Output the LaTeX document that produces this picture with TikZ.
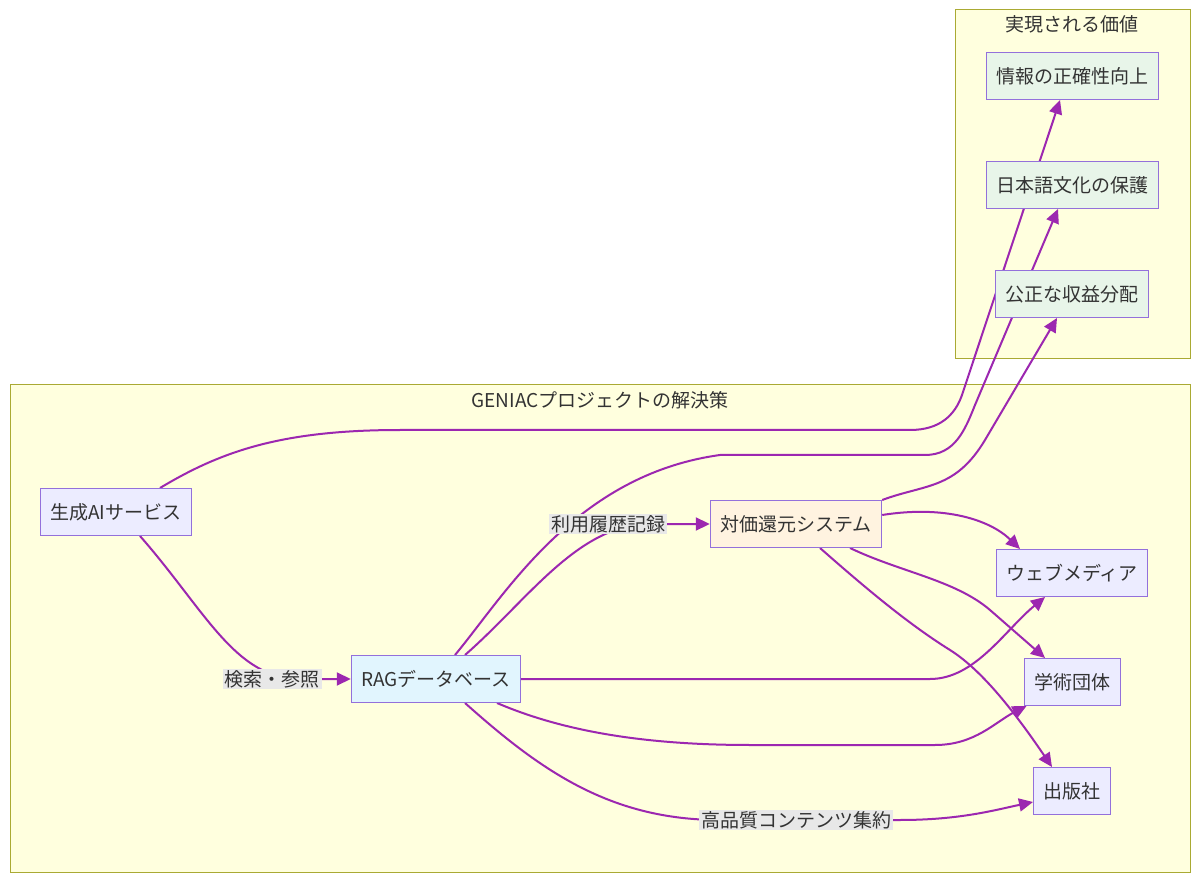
\documentclass[tikz,border=0pt]{standalone}
\usepackage{fontspec}
\setmainfont{Noto Sans CJK JP}
\usepackage{xcolor}
\usepackage{tikz}
\usetikzlibrary{arrows.meta,positioning,calc}
\definecolor{clfill}{HTML}{FFFFDE}
\definecolor{cldraw}{HTML}{AAAA33}
\definecolor{ndfill}{HTML}{ECECFF}
\definecolor{nddraw}{HTML}{9370DB}
\definecolor{ragfill}{HTML}{E1F5FE}
\definecolor{sysfill}{HTML}{FFF3E0}
\definecolor{valfill}{HTML}{E8F5E9}
\definecolor{edgecol}{HTML}{9C27B0}
\definecolor{lblfill}{HTML}{E8E8E8}
\definecolor{txt}{HTML}{333333}
\pgfdeclarelayer{cluster}
\pgfdeclarelayer{edges}
\pgfsetlayers{cluster,edges,main}

\begin{document}
\begin{tikzpicture}[x=1pt,y=-1pt,
  box/.style={draw=nddraw, fill=ndfill, line width=1pt, minimum height=47pt,
    inner xsep=10pt, text=txt, font=\fontsize{19}{19}\selectfont},
  flow/.style={draw=edgecol, line width=2pt, -{Triangle[length=14pt,width=13pt]}},
  elabel/.style={fill=lblfill, inner xsep=2pt, inner ysep=1.5pt, text=txt,
    font=\fontsize{19}{19}\selectfont},
  ctitle/.style={text=txt, font=\fontsize{19}{19}\selectfont},
  cluster/.style={draw=cldraw, fill=clfill, line width=1pt}]
  \useasboundingbox (0,0) rectangle (1200,882);

  % subgraphs
  \begin{pgfonlayer}{cluster}
    \fill[white] (0,0) rectangle (1200,882);
    \draw[cluster] (955,10) rectangle (1190,359);
    \draw[cluster] (10,385) rectangle (1190,872);
  \end{pgfonlayer}
  \node[ctitle] (valtitle) at (1072,24) {実現される価値};
  \node[ctitle] (soltitle) at (600,400) {GENIACプロジェクトの解決策};

  % values
  \node[box, fill=valfill] (acc) at (1072,76) {情報の正確性向上};
  \node[box, fill=valfill] (cul) at (1072,185) {日本語文化の保護};
  \node[box, fill=valfill] (fair) at (1072,294) {公正な収益分配};

  % solution
  \node[box] (gen) at (116,512) {生成AIサービス};
  \node[box, fill=ragfill] (rag) at (436,679) {RAGデータベース};
  \node[box, fill=sysfill] (sys) at (796,524) {対価還元システム};
  \node[box] (web) at (1072,573) {ウェブメディア};
  \node[box] (aca) at (1072,682) {学術団体};
  \node[box] (pub) at (1072,791) {出版社};

  % edge labels
  \node[elabel] (lsearch) at (272,679) {検索・参照};
  \node[elabel] (llog) at (608,524) {利用履歴記録};
  \node[elabel] (lagg) at (796,820) {高品質コンテンツ集約};

  \begin{pgfonlayer}{edges}
    \draw[flow] ([xshift=24pt]gen.south) .. controls (205,610) and (235,679) .. (300,679) -- (rag.west);
    \draw[flow] ([xshift=44pt]gen.north) .. controls (220,452) and (280,430) .. (400,430) -- (910,430)
      .. controls (940,430) and (955,415) .. (962,395) -- ([xshift=-12pt]acc.south);
    \draw[flow] ([xshift=19pt]rag.north) .. controls (505,595) and (575,475) .. (720,455) -- (925,455)
      .. controls (955,455) and (965,430) .. (975,405) -- ([xshift=-14pt]cul.south);
    \draw[flow] ([xshift=29pt]rag.north) .. controls (528,600) and (578,524) .. (650,524) -- (sys.west);
    \draw[flow] (sys.north east) .. controls (925,484) and (955,490) .. (985,440) -- ([xshift=-15pt]fair.south);
    \draw[flow] ([yshift=9pt]sys.east) .. controls (945,505) and (990,520) .. ([xshift=-52pt]web.north);
    \draw[flow] ([xshift=54pt]sys.south) .. controls (900,572) and (955,580) .. (990,610) -- ([xshift=-27pt]aca.north);
    \draw[flow] ([xshift=24pt]sys.south) .. controls (870,592) and (910,625) .. (950,650)
      .. controls (985,672) and (1020,720) .. ([xshift=-20pt]pub.north);
    \draw[flow] (rag.east) -- (930,679) .. controls (975,679) and (1005,630) .. ([xshift=-27pt]web.south);
    \draw[flow] ([xshift=61pt]rag.south) .. controls (560,730) and (640,745) .. (750,745) -- (935,745)
      .. controls (975,745) and (995,722) .. ([xshift=3pt]aca.south west);
    \draw[flow] ([xshift=29pt]rag.south) .. controls (540,770) and (610,820) .. (720,820) -- (900,820)
      .. controls (960,820) and (995,810) .. ([yshift=-11pt]pub.west);
  \end{pgfonlayer}
\end{tikzpicture}
\end{document}
